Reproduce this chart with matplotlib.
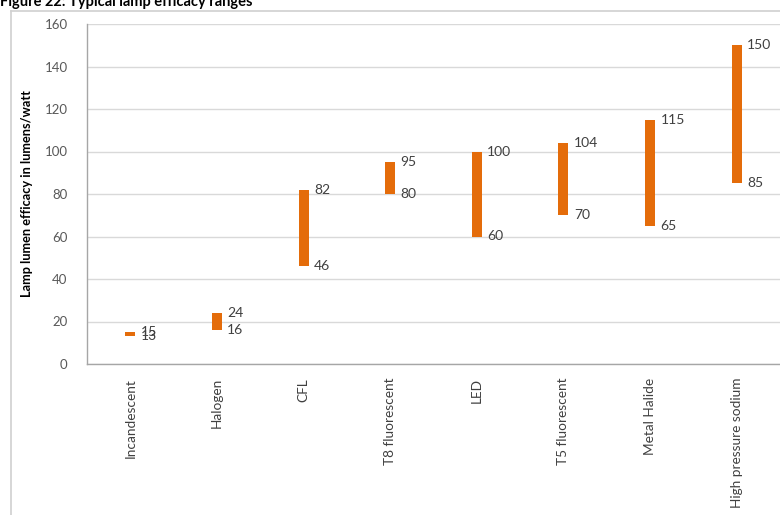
import matplotlib
matplotlib.use("Agg")
import matplotlib.pyplot as plt
from matplotlib.lines import Line2D

plt.rcParams['font.family'] = ['Lato', 'DejaVu Sans']

# Lamp types and efficacy ranges (lumens per watt)
lamps = ["Incandescent", "Halogen", "CFL", "T8 fluorescent", "LED",
         "T5 fluorescent", "Metal Halide", "High pressure sodium"]
low = [13, 16, 46, 80, 60, 70, 65, 85]
high = [15, 24, 82, 95, 100, 104, 115, 150]
yticks = [0, 20, 40, 60, 80, 100, 120, 140, 160]

W, H = 780, 515
fig = plt.figure(figsize=(W / 100, H / 100), dpi=100)

# Chart frame (left and top edges visible)
frame_col = "#d0d0d0"
fig.add_artist(Line2D([11 / W, 11 / W], [0, 1 - 11 / H], transform=fig.transFigure,
                      color=frame_col, lw=1.2))
fig.add_artist(Line2D([11 / W, 1], [1 - 11 / H, 1 - 11 / H], transform=fig.transFigure,
                      color=frame_col, lw=1.2))

left, right, top, bottom = 87, 780, 24, 364
ax = fig.add_axes([left / W, 1 - bottom / H, (right - left) / W, (bottom - top) / H])

x = list(range(len(lamps)))
heights = [h - l for h, l in zip(high, low)]
ax.bar(x, heights, bottom=low, width=0.115, color="#E46C0A", zorder=3)

for xi, lo, hi in zip(x, low, high):
    ax.text(xi + 0.12, hi, str(hi), ha="left", va="center", fontsize=10,
            color="#404040", zorder=4)
    ax.text(xi + 0.12, lo, str(lo), ha="left", va="center", fontsize=10,
            color="#404040", zorder=4)

ax.set_xlim(-0.5, len(lamps) - 0.5)
ax.set_ylim(0, 160)
ax.set_yticks(yticks)
ax.set_xticks(x)
ax.set_xticklabels(lamps, rotation=90, fontsize=9.8, color="#404040")
ax.tick_params(axis="y", labelsize=9.5, labelcolor="#595959", length=0, pad=14)
ax.tick_params(axis="x", length=0, pad=10)
ax.yaxis.grid(True, color="#d9d9d9", lw=1.0, zorder=0)
ax.set_axisbelow(True)
for s in ["top", "right"]:
    ax.spines[s].set_visible(False)
for s in ["left", "bottom"]:
    ax.spines[s].set_color("#a6a6a6")
    ax.spines[s].set_linewidth(1.0)

ax.set_ylabel("Lamp lumen efficacy in lumens/watt", fontsize=9.2, fontweight="bold",
              color="#000000")
ax.yaxis.set_label_coords(-(87 - 33) / (right - left), 0.5)

fig.text(0, 1 - 6 / H, "Figure 22: Typical lamp efficacy ranges", fontsize=10.5,
         fontweight="bold", ha="left", va="baseline", color="#000000")

fig.savefig("out.png", dpi=100)
